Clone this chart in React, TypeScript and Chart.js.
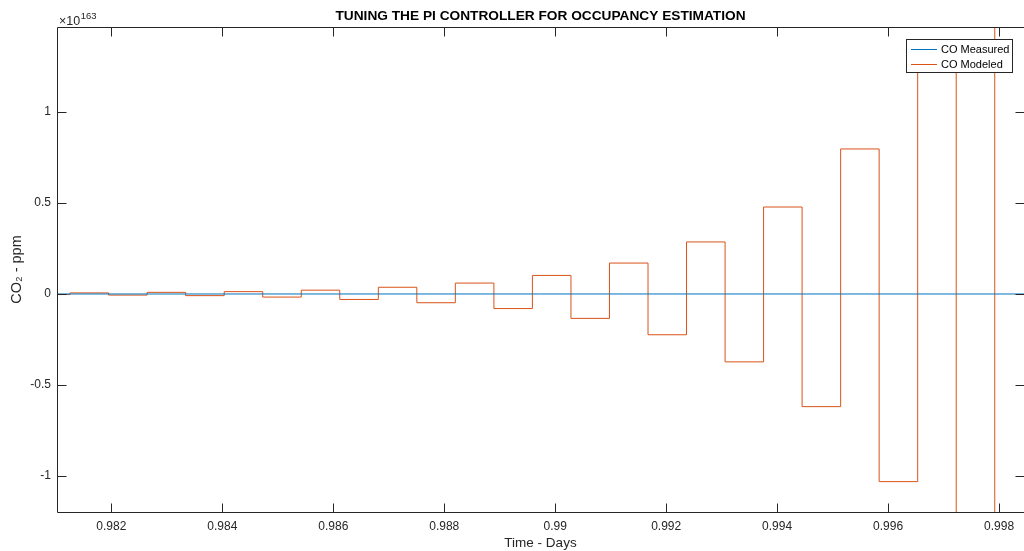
import React, { useEffect, useRef } from "react";
import { Chart, registerables } from "chart.js";

Chart.register(...registerables);

// Axis limits (values are in units of 10^163 ppm)
const xLimits = [0.98102, 0.99845];
const yLimits = [-1.198, 1.467];

// Start time (days) of each step of the modeled CO signal; last entry closes the final step
const stepTimes = [
  0.98102, 0.981256, 0.98195, 0.982645, 0.983339, 0.984034, 0.984728, 0.985423,
  0.986117, 0.986812, 0.987506, 0.9882, 0.988895, 0.989589, 0.990284, 0.990978,
  0.991673, 0.992367, 0.993062, 0.993756, 0.99445, 0.995145, 0.995839, 0.996534,
  0.997228, 0.997923, 0.99845,
];
// Modeled CO (×10^163 ppm) held during each step
const modeledValues = [
  -0.003, 0.006, -0.006, 0.009, -0.009, 0.013, -0.017, 0.021, -0.03, 0.037,
  -0.048, 0.06, -0.08, 0.102, -0.134, 0.17, -0.224, 0.286, -0.373, 0.478,
  -0.619, 0.797, -1.031, 1.33, -1.72, 2.22, 2.22,
];

// Measured CO (×10^163 ppm) — effectively zero at this scale
const measuredTimes = [0.98102, 0.99845];
const measuredValues = [0, 0];

const xTicks = [0.982, 0.984, 0.986, 0.988, 0.99, 0.992, 0.994, 0.996, 0.998];
const xTickLabels = ["0.982", "0.984", "0.986", "0.988", "0.99", "0.992", "0.994", "0.996", "0.998"];
const yTicks = [-1, -0.5, 0, 0.5, 1];
const yTickLabels = ["-1", "-0.5", "0", "0.5", "1"];

const seriesNames = ["CO Measured", "CO Modeled"];
const seriesColors = ["#0072BD", "#D95319"];

const titleText = "TUNING THE PI CONTROLLER FOR OCCUPANCY ESTIMATION";
const xTitle = "Time - Days";
const yTitle = "CO₂ - ppm";
const exponentBase = "×10";
const exponentPower = "163";

const FONT = "'Liberation Sans', Arial, Helvetica, sans-serif";
const AXIS = "#262626";

const matlabAxesPlugin = {
  id: "matlabAxes",
  afterDatasetsDraw(chart: any) {
    const { ctx, chartArea } = chart;
    const { left, right, top, bottom } = chartArea;
    const xs = chart.scales.x;
    const ys = chart.scales.y;
    const tl = 9;
    ctx.save();
    ctx.strokeStyle = AXIS;
    ctx.lineWidth = 1;
    ctx.beginPath();
    const L = Math.round(left) + 0.5;
    const R = Math.round(right) + 0.5;
    const T = Math.round(top) + 0.5;
    const B = Math.round(bottom) + 0.5;
    ctx.moveTo(L, T);
    ctx.lineTo(R, T);
    ctx.lineTo(R, B);
    ctx.lineTo(L, B);
    ctx.closePath();
    xTicks.forEach((v) => {
      const px = Math.round(xs.getPixelForValue(v)) + 0.5;
      ctx.moveTo(px, B);
      ctx.lineTo(px, B - tl);
      ctx.moveTo(px, T);
      ctx.lineTo(px, T + tl);
    });
    yTicks.forEach((v) => {
      const py = Math.round(ys.getPixelForValue(v)) + 0.5;
      ctx.moveTo(L, py);
      ctx.lineTo(L + tl, py);
      ctx.moveTo(R, py);
      ctx.lineTo(R - tl, py);
    });
    ctx.stroke();

    // exponent label
    ctx.fillStyle = AXIS;
    ctx.textBaseline = "alphabetic";
    ctx.textAlign = "left";
    ctx.font = `12.5px ${FONT}`;
    ctx.fillText(exponentBase, 59, 24.5);
    const w = ctx.measureText(exponentBase).width;
    ctx.font = `9.5px ${FONT}`;
    ctx.fillText(exponentPower, 59 + w + 0.5, 18.5);

    // legend
    const lx = 906.5, ly = 39.5, lw = 106, lh = 33;
    ctx.fillStyle = "#ffffff";
    ctx.fillRect(lx, ly, lw, lh);
    ctx.strokeStyle = "#262626";
    ctx.strokeRect(lx, ly, lw, lh);
    const rows = [49.5, 64.5];
    seriesNames.forEach((name, i) => {
      ctx.strokeStyle = seriesColors[i];
      ctx.beginPath();
      ctx.moveTo(911, rows[i]);
      ctx.lineTo(937, rows[i]);
      ctx.stroke();
      ctx.fillStyle = "#000000";
      ctx.font = `11px ${FONT}`;
      ctx.textBaseline = "middle";
      ctx.fillText(name, 941, rows[i] + 0.5);
    });
    ctx.restore();
  },
};

export default function App() {
  const canvasRef = useRef<HTMLCanvasElement | null>(null);

  useEffect(() => {
    const canvas = canvasRef.current;
    if (!canvas) return;
    const chart = new Chart(canvas, {
      type: "line",
      data: {
        datasets: [
          {
            label: seriesNames[0],
            data: measuredTimes.map((t, i) => ({ x: t, y: measuredValues[i] })),
            borderColor: seriesColors[0],
            borderWidth: 1,
            pointRadius: 0,
            fill: false,
          },
          {
            label: seriesNames[1],
            data: stepTimes.map((t, i) => ({ x: t, y: modeledValues[i] })),
            borderColor: seriesColors[1],
            borderWidth: 1,
            pointRadius: 0,
            stepped: "before",
            fill: false,
          },
        ],
      },
      options: {
        animation: false,
        responsive: false,
        devicePixelRatio: 1,
        layout: { padding: { left: 0, right: 0, top: 0, bottom: 0 } },
        plugins: {
          legend: { display: false },
          tooltip: { enabled: false },
          title: {
            display: true,
            text: titleText,
            fullSize: false,
            color: "#000000",
            font: { family: FONT, size: 13.7, weight: "bold", lineHeight: 1.2 },
            padding: { top: 8.5, bottom: 2.1 },
          },
        },
        scales: {
          x: {
            type: "linear",
            min: xLimits[0],
            max: xLimits[1],
            grid: { display: false, drawTicks: false },
            border: { display: false },
            afterBuildTicks: (scale: any) => {
              scale.ticks = xTicks.map((v) => ({ value: v }));
            },
            afterFit: (scale: any) => {
              scale.height = 39;
            },
            ticks: {
              autoSkip: false,
              maxRotation: 0,
              padding: 7,
              color: AXIS,
              font: { family: FONT, size: 12 },
              callback: (v: any) => {
                const i = xTicks.findIndex((t) => Math.abs(t - Number(v)) < 1e-9);
                return i >= 0 ? xTickLabels[i] : "";
              },
            },
            title: {
              display: true,
              text: xTitle,
              color: AXIS,
              font: { family: FONT, size: 13.5, lineHeight: 1 },
              padding: { top: 0, bottom: 0.5 },
            },
          },
          y: {
            type: "linear",
            min: yLimits[0],
            max: yLimits[1],
            grid: { display: false, drawTicks: false },
            border: { display: false },
            afterBuildTicks: (scale: any) => {
              scale.ticks = yTicks.map((v) => ({ value: v }));
            },
            afterFit: (scale: any) => {
              scale.width = 57;
            },
            ticks: {
              autoSkip: false,
              padding: 6,
              color: AXIS,
              font: { family: FONT, size: 12 },
              callback: (v: any) => {
                const i = yTicks.findIndex((t) => Math.abs(t - Number(v)) < 1e-9);
                return i >= 0 ? yTickLabels[i] : "";
              },
            },
            title: {
              display: true,
              text: yTitle,
              color: AXIS,
              font: { family: FONT, size: 14.5, lineHeight: 1.2 },
              padding: { top: 8.5, bottom: 0 },
            },
          },
        },
      },
      plugins: [matlabAxesPlugin],
    } as any);
    return () => chart.destroy();
  }, []);

  return (
    <div style={{ position: "fixed", left: 0, top: 0, width: 1024, height: 551, background: "#ffffff" }}>
      <canvas ref={canvasRef} width={1024} height={551} style={{ display: "block" }} />
    </div>
  );
}
